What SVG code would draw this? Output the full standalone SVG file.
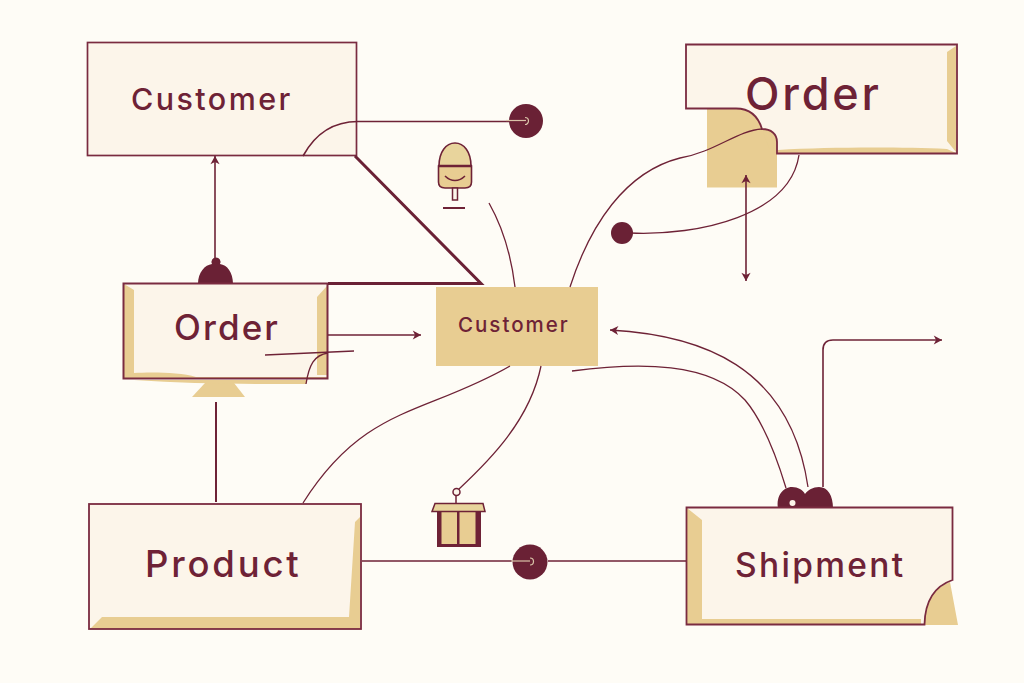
<svg xmlns="http://www.w3.org/2000/svg" width="1024" height="683" viewBox="0 0 1024 683">
  <style>
    .card { fill: #fcf5ea; }
    .edge { fill: none; stroke: #6e2236; stroke-width: 1.6; }
    .thin { fill: none; stroke: #6e2236; stroke-width: 1.3; }
    .frame { fill: none; stroke: #7a2b40; }
    .tan { fill: #e8cd92; }
    .dark { fill: #6a2135; }
    .label { font-family: "Inter", "Liberation Sans", sans-serif; fill: #6e2236; font-weight: 500; }
  </style>
  <defs>
    <marker id="head" viewBox="0 0 12 12" refX="10" refY="6" markerWidth="11" markerHeight="11" markerUnits="userSpaceOnUse" orient="auto-start-reverse">
      <path d="M1 1 L10 6 L1 11 L3.5 6 Z" fill="#6e2236"/>
    </marker>
  </defs>

  <rect width="1024" height="683" fill="#fefcf6"/>

  <g id="node-customer-top">
    <rect class="card" x="87.500" y="42.500" width="269" height="113"/>
    <rect class="frame" x="87.500" y="42.500" width="269" height="113" stroke-width="1.700"/>
    <text class="label" x="131" y="110" font-size="30.500" letter-spacing="2.400">Customer</text>
  </g>

  <g id="node-order-top">
    <rect class="tan" x="707" y="108" width="70" height="79.500"/>
    <path class="tan" d="M776 136C782 141 782 150 777 153Z"/>
    <path class="card" d="M686 44.500H957V153.500H777V142C777 134 771 129 762 129C758 116 750 108.500 736 108.500H686Z"/>
    <path class="tan" d="M947 52L956 46V152L947 141Z"/>
    <path class="tan" d="M778 150C830 147 900 147 947 149L956 153H778Z"/>
    <path class="tan" d="M762 129C770 131 774 136 773 150L769 148Z" opacity="0.500"/>
    <path class="frame" d="M686 44.500H957V153.500H777V142C777 134 771 129 762 129C758 116 750 108.500 736 108.500H686Z" stroke-width="1.800"/>
    <text class="label" x="745" y="110" font-size="45" letter-spacing="2.800">Order</text>
  </g>

  <g id="node-order-mid">
    <path class="tan" d="M192 397L205 383H234L245 397Z"/>
    <path class="dark" d="M198 284C198 272 205 265 212 264A4.500 4.500 0 1 1 220 264C227 265 233 272 233 284Z"/>
    <rect class="card" x="124" y="284" width="203.500" height="94"/>
    <path class="tan" d="M124 284L134 290V373C150 372 180 372 196 377H327V378H124Z"/>
    <path class="tan" d="M327 286L317 297V375H327Z"/>
    <path class="tan" d="M134 380H306V384C250 384 190 384 134 380Z"/>
    <path class="frame" d="M123.500 283.500H327.500V378.500H123.500Z" stroke-width="2"/>
    <text class="label" x="174" y="339.500" font-size="35" letter-spacing="2.100">Order</text>
  </g>

  <g id="node-customer-mid">
    <rect class="tan" x="436" y="287" width="162" height="79"/>
    <text class="label" x="458" y="332" font-size="20.500" letter-spacing="2">Customer</text>
  </g>

  <g id="node-product">
    <rect class="card" x="89" y="504" width="272" height="125"/>
    <path class="tan" d="M360 517L355 522L349 617H102L90 629H360Z"/>
    <rect class="frame" x="89" y="504" width="272" height="125" stroke-width="1.800"/>
    <text class="label" x="145" y="577" font-size="36.500" letter-spacing="2.800">Product</text>
  </g>

  <g id="node-shipment">
    <path class="dark" d="M778 508C776 496 783 487 792 487C798 487 803 490 805 494C808 490 813 487 819 487C828 487 833 496 833 508Z"/>
    <circle cx="792.500" cy="503" r="3" fill="#fcf5ea"/>
    <path class="tan" d="M950 582L958 625H916L924 620C925 600 935 588 950 582Z"/>
    <path class="card" d="M686.500 507.500H952.500V580C935 586 925 600 924.500 624.500H686.500Z"/>
    <path class="tan" d="M687 508L702 520V619H921V624H687Z"/>
    <path class="frame" d="M924.500 624.500H686.500V507.500H952.500V580C935 586 925 600 924.500 624.500Z" stroke-width="1.800"/>
    <text class="label" x="735" y="577" font-size="33.500" letter-spacing="2.300">Shipment</text>
  </g>

  <g id="icon-lollipop">
    <path d="M439 166C439 152 446 143 455 143C464 143 471 152 471 166Z" fill="#e8d49c" stroke="#6e2236" stroke-width="1.600"/>
    <path d="M438.500 166H471.500V182C471.500 186 469 188 465 188H445C441 188 438.500 186 438.500 182Z" class="tan" stroke="#6e2236" stroke-width="1.600"/>
    <path d="M438 166H472" stroke="#6e2236" stroke-width="2.500"/>
    <path d="M445 176C451 182 459 182 465 176" fill="none" stroke="#6e2236" stroke-width="1.500"/>
    <rect x="452.500" y="188" width="5" height="12" fill="#fcf5ea" stroke="#6e2236" stroke-width="1.500"/>
    <path d="M443 208H465" stroke="#6e2236" stroke-width="2"/>
  </g>

  <g id="icon-box">
    <rect x="437" y="511" width="44" height="36" fill="#6e2236"/>
    <rect x="441.500" y="511" width="15.500" height="33" class="tan"/>
    <rect x="459.500" y="511" width="16" height="33" class="tan"/>
    <path d="M432 511.500L435 503.500H483L485 511.500Z" fill="#e8d49c" stroke="#6e2236" stroke-width="1.500"/>
    <path d="M456 503V494" stroke="#6e2236" stroke-width="1.500"/>
    <circle cx="456.500" cy="492" r="3.500" fill="#fcf5ea" stroke="#6e2236" stroke-width="1.500"/>
  </g>

  <g id="connectors">
    <path d="M355 156L481 283.500H328" fill="none" stroke="#6a2135" stroke-width="3"/>
    <path class="edge" d="M303 156C315 134 333 121.500 358 121.500H514"/>
    <circle class="dark" cx="526" cy="121" r="17"/>
    <path d="M506 120.500H526" stroke="#d9c3a8" stroke-width="1.200"/>
    <path d="M525 117.500A3.500 3.500 0 0 1 525 124.500" fill="none" stroke="#d9c3a8" stroke-width="1.200"/>

    <path class="edge" d="M215 264V156" marker-end="url(#head)"/>
    <path d="M216 502V402" stroke="#6e2236" stroke-width="2"/>
    <path class="edge" d="M328 335H421" marker-end="url(#head)"/>
    <path class="thin" d="M265 355L354 351"/>
    <path class="thin" d="M306 384C309 365 314 355 328 353"/>

    <path class="thin" d="M489 203C502 226 511 254 515 287"/>
    <path class="thin" d="M570 287C590 225 625 172 680 158C715 152 738 130 762 129"/>
    <circle class="dark" cx="622" cy="233" r="11"/>
    <path class="thin" d="M630 233C700 236 790 215 799 155"/>
    <path class="edge" d="M746 175V281" marker-start="url(#head)" marker-end="url(#head)"/>

    <path class="thin" d="M303 503C365 405 425 415 510 366"/>
    <path class="thin" d="M541 366C530 420 490 460 459 489"/>
    <path class="edge" d="M362 561H512" />
    <path class="edge" d="M548 561H686"/>
    <circle class="dark" cx="530" cy="562" r="17.500"/>
    <path d="M511 561H530" stroke="#d9c3a8" stroke-width="1.200"/>
    <path d="M530 558A3.500 3.500 0 0 1 530 565" fill="none" stroke="#d9c3a8" stroke-width="1.200"/>

    <path class="thin" d="M572 371C640 362 710 362 745 400C762 420 776 455 786 488"/>
    <path class="thin" d="M610 330C700 335 790 365 808 487" marker-start="url(#head)"/>
    <path class="edge" d="M823 487V350Q823 340 833 340H942" marker-end="url(#head)"/>
  </g>
</svg>
